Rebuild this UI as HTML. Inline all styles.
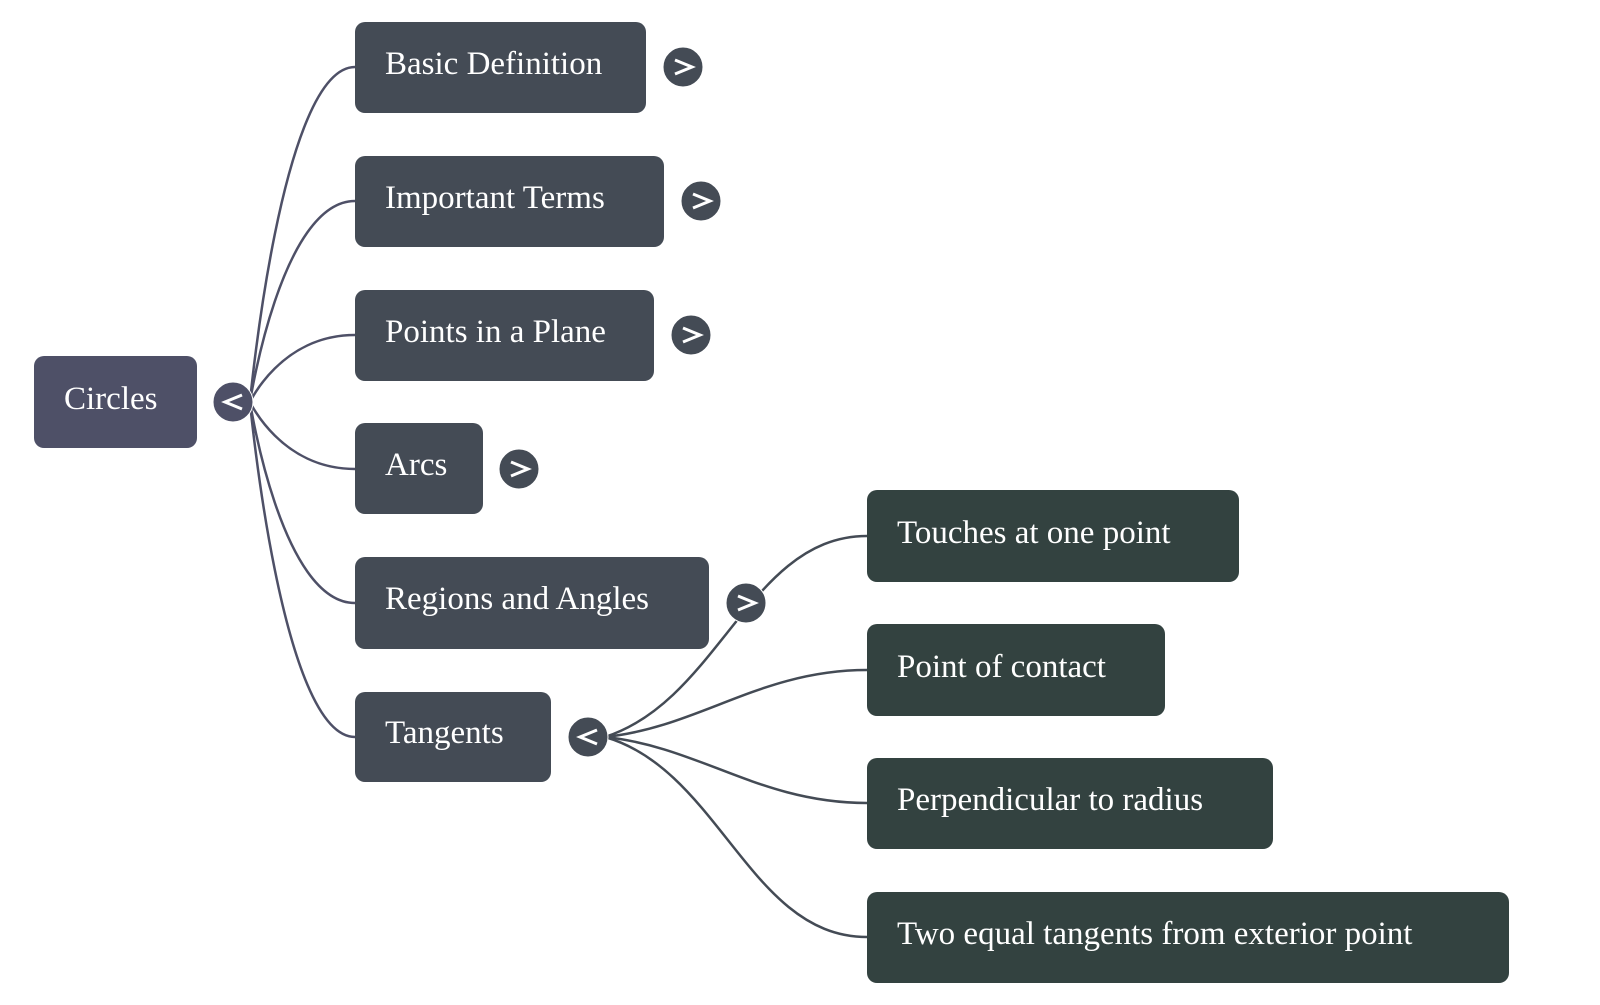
<!DOCTYPE html>
<html><head><meta charset="utf-8"><style>
html,body{margin:0;padding:0;background:#fff;}
svg{display:block;}
</style></head><body>
<svg width="1600" height="1005" viewBox="0 0 1600 1005" xmlns="http://www.w3.org/2000/svg">
<g fill="none" stroke="#4e5067" stroke-width="2.5">
<path d="M250 402 C250 402 281 67 355 67"/>
<path d="M250 402 C250 402 281 201 355 201"/>
<path d="M250 402 C250 402 281 335 355 335"/>
<path d="M250 402 C250 402 281 469 355 469"/>
<path d="M250 402 C250 402 281 603 355 603"/>
<path d="M250 402 C250 402 281 737 355 737"/>
</g>
<g fill="none" stroke="#444b55" stroke-width="2.5">
<path d="M605 737 C720 700 750 536 867 536"/>
<path d="M605 737 C700 727 760 670 867 670"/>
<path d="M605 737 C700 747 760 803 867 803"/>
<path d="M605 737 C720 770 750 937 867 937"/>
</g>
<g font-family="'Liberation Serif', 'Times New Roman', serif" font-size="33" fill="#ffffff">
<rect x="34" y="356" width="163" height="92" rx="10" fill="#4e5067"/>
<text x="64" y="409">Circles</text>
<g fill="#444b55">
<rect x="355" y="22" width="291" height="91" rx="10"/>
<rect x="355" y="156" width="309" height="91" rx="10"/>
<rect x="355" y="290" width="299" height="91" rx="10"/>
<rect x="355" y="423" width="128" height="91" rx="10"/>
<rect x="355" y="557" width="354" height="92" rx="10"/>
<rect x="355" y="692" width="196" height="90" rx="10"/>
</g>
<text x="385" y="74">Basic Definition</text>
<text x="385" y="208">Important Terms</text>
<text x="385" y="342">Points in a Plane</text>
<text x="385" y="475">Arcs</text>
<text x="385" y="609">Regions and Angles</text>
<text x="385" y="743">Tangents</text>
<g fill="#334240">
<rect x="867" y="490" width="372" height="92" rx="10"/>
<rect x="867" y="624" width="298" height="92" rx="10"/>
<rect x="867" y="758" width="406" height="91" rx="10"/>
<rect x="867" y="892" width="642" height="91" rx="10"/>
</g>
<text x="897" y="543">Touches at one point</text>
<text x="897" y="677">Point of contact</text>
<text x="897" y="810">Perpendicular to radius</text>
<text x="897" y="944">Two equal tangents from exterior point</text>
</g>
<g stroke="#fff" stroke-width="1">
<circle cx="233" cy="402" r="20" fill="#4e5067"/>
<circle cx="683" cy="67" r="20" fill="#444b55"/>
<circle cx="701" cy="201" r="20" fill="#444b55"/>
<circle cx="691" cy="335" r="20" fill="#444b55"/>
<circle cx="519" cy="469" r="20" fill="#444b55"/>
<circle cx="746" cy="603" r="20" fill="#444b55"/>
<circle cx="588" cy="737" r="20" fill="#444b55"/>
</g>
<g fill="none" stroke="#fff" stroke-width="3" stroke-linejoin="miter">
<polyline points="242,395 225,402 242,409"/>
<polyline points="675,60 692,67 675,74"/>
<polyline points="693,194 710,201 693,208"/>
<polyline points="683,328 700,335 683,342"/>
<polyline points="511,462 528,469 511,476"/>
<polyline points="738,596 755,603 738,610"/>
<polyline points="597,730 580,737 597,744"/>
</g>
</svg>
</body></html>
